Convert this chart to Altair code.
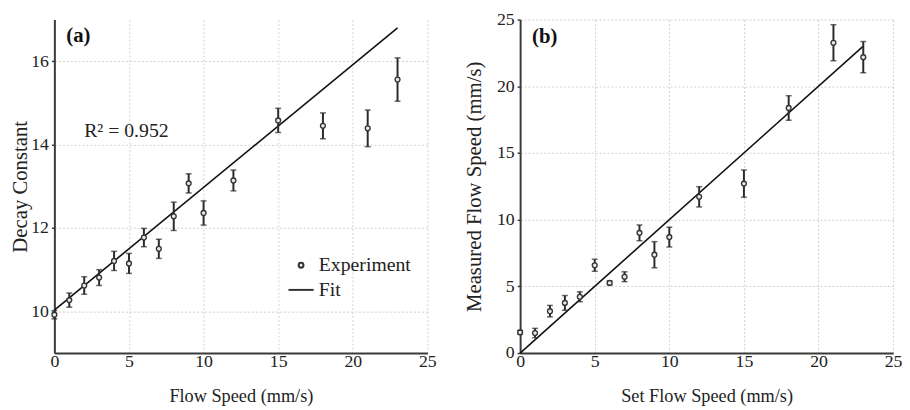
import altair as alt
import pandas as pd

# Panel (a): decay constant vs flow speed
a_x = [0, 1, 2, 3, 4, 5, 6, 7, 8, 9, 10, 12, 15, 18, 21, 23]
a_y = [9.92, 10.27, 10.62, 10.81, 11.21, 11.15, 11.77, 11.50, 12.28, 13.07, 12.36, 13.14, 14.58, 14.45, 14.39, 15.56]
a_err = [0.10, 0.17, 0.21, 0.19, 0.23, 0.24, 0.22, 0.23, 0.34, 0.23, 0.29, 0.25, 0.29, 0.31, 0.44, 0.52]
a_fit_x = [0, 23]
a_fit_y = [10.03, 16.80]

# Panel (b): measured vs set flow speed
b_x = [0, 1, 2, 3, 4, 5, 6, 7, 8, 9, 10, 12, 15, 18, 21, 23]
b_y = [1.55, 1.50, 3.14, 3.76, 4.22, 6.58, 5.26, 5.72, 9.01, 7.37, 8.69, 11.71, 12.70, 18.37, 23.26, 22.18]
b_err = [0.15, 0.35, 0.43, 0.55, 0.37, 0.45, 0.15, 0.37, 0.59, 0.98, 0.74, 0.76, 1.02, 0.92, 1.35, 1.17]
b_fit_x = [0, 23]
b_fit_y = [0, 23]

x_ticks = [0, 5, 10, 15, 20, 25]
a_y_ticks = [10, 12, 14, 16]
b_y_ticks = [0, 5, 10, 15, 20, 25]
series_names = ["Experiment", "Fit"]
r2_text = "R² = 0.952"

FONT = "Liberation Serif"
W, H = 378, 338


def panel(xs, ys, errs, fx, fy, ydom, yticks, xtitle, ytitle, ytp, tag, tag_xy, legend, r2=None):
    df = pd.DataFrame({"x": xs, "y": ys, "err": errs})
    df["lo"] = df["y"] - df["err"]
    df["hi"] = df["y"] + df["err"]
    df["series"] = series_names[0]
    fit = pd.DataFrame({"x": fx, "y": fy})
    xenc = alt.X("x:Q", scale=alt.Scale(domain=[0, 25], nice=False, zero=False),
                 axis=alt.Axis(title=xtitle, values=x_ticks))
    yscale = alt.Scale(domain=ydom, nice=False, zero=False)
    yaxis = alt.Axis(title=ytitle, values=yticks, titlePadding=ytp)
    base = alt.Chart(df)
    rules = base.mark_rule(color="#2a2a2a", strokeWidth=2).encode(
        x=xenc, y=alt.Y("lo:Q", scale=yscale, axis=yaxis), y2="hi:Q")
    caps_lo = base.mark_tick(color="#2a2a2a", orient="horizontal", size=6, thickness=1.5).encode(
        x="x:Q", y="lo:Q")
    caps_hi = base.mark_tick(color="#2a2a2a", orient="horizontal", size=6, thickness=1.5).encode(
        x="x:Q", y="hi:Q")
    line = alt.Chart(fit).mark_line(color="#111111", strokeWidth=1.6).encode(x="x:Q", y="y:Q")
    if legend:
        leg = alt.Legend(title=None, orient="none", legendX=236, legendY=239,
                         labelFont=FONT, labelFontSize=20, labelColor="#222",
                         symbolStrokeWidth=2, rowPadding=1, labelOffset=4)
    else:
        leg = None
    shape_enc = alt.Shape("series:N", scale=alt.Scale(domain=series_names, range=["circle", "stroke"]),
                          legend=leg)
    size_enc = alt.Size("series:N", scale=alt.Scale(domain=series_names, range=[24, 650]),
                        legend=leg)
    pts = base.mark_point(filled=False, color="#333333", fill="#e8e8e8", fillOpacity=1,
                          strokeWidth=1.4, opacity=1).encode(
        x="x:Q", y="y:Q", shape=shape_enc, size=size_enc)
    tagdf = pd.DataFrame({"x": [tag_xy[0]], "y": [tag_xy[1]], "t": [tag]})
    tagm = alt.Chart(tagdf).mark_text(font=FONT, fontSize=21, fontWeight="bold", align="left",
                                      baseline="middle", color="#111").encode(x="x:Q", y="y:Q", text="t:N")
    layers = [line, rules, caps_lo, caps_hi, pts, tagm]
    if r2 is not None:
        r2df = pd.DataFrame({"x": [r2[0]], "y": [r2[1]], "t": [r2_text]})
        layers.append(alt.Chart(r2df).mark_text(font=FONT, fontSize=20, align="left",
                                                baseline="middle", color="#222").encode(
            x="x:Q", y="y:Q", text="t:N"))
    return alt.layer(*layers).properties(width=W, height=H)


pa = panel(a_x, a_y, a_err, a_fit_x, a_fit_y, [9, 17], a_y_ticks,
           "Flow Speed (mm/s)", "Decay Constant", 0, "(a)", (0.8, 16.6), True, r2=(2.0, 14.33))
pb = panel(b_x, b_y, b_err, b_fit_x, b_fit_y, [0, 25], b_y_ticks,
           "Set Flow Speed (mm/s)", "Measured Flow Speed (mm/s)", 12, "(b)", (0.8, 23.7), False)

chart = alt.hconcat(pa, pb, spacing=28).resolve_scale(shape="independent", size="independent").properties(
    padding={"top": 0, "left": 2, "right": 0, "bottom": 0}
).configure_view(stroke=None).configure_axis(
    labelFont=FONT, titleFont=FONT, labelFontSize=18, titleFontSize=18.5,
    titleFontWeight="normal", labelColor="#222", titleColor="#222", labelFlush=False,
    domainColor="#3a3a3a", domainWidth=2,
    grid=True, gridColor="#cfcfcf", gridDash=[2, 2], gridWidth=1,
).configure_axisX(ticks=False, labelPadding=0, titlePadding=16
).configure_axisY(ticks=True, tickSize=3, tickColor="#3a3a3a", tickWidth=1.5, labelPadding=3,
                  titleFontSize=21
).configure_legend(labelFont=FONT, labelFontSize=20)

chart.save("out.html", embed_options={"renderer": "svg", "actions": False})
